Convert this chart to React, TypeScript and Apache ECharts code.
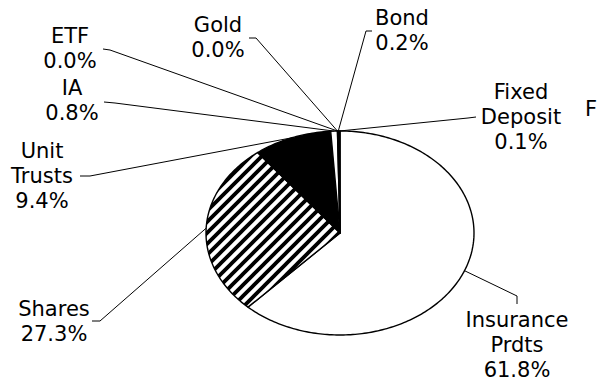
import React, { useEffect, useRef } from "react";
import * as echarts from "echarts";

// ---- data ----
const categories = ["Insurance\nPrdts", "Shares", "Unit\nTrusts", "IA", "ETF", "Gold", "Bond", "Fixed\nDeposit"];
const percentages = [61.8, 27.3, 9.4, 0.8, 0.0, 0.0, 0.2, 0.1];
const cutOffLabel = "F";

// ---- layout (not data) ----
const CX = 340;
const CY = 233;
const RX = 134;
const RY = 102;
const labelLayout: { text: number[]; end: number[]; elbow: number[] }[] = [
  { text: [517, 345], end: [517, 304], elbow: [517, 296] },
  { text: [54, 321], end: [92, 321], elbow: [100, 321] },
  { text: [42, 176], end: [80, 176], elbow: [90, 176] },
  { text: [72, 100], end: [104, 102], elbow: [115, 103] },
  { text: [70, 48], end: [103, 49], elbow: [110, 50] },
  { text: [218, 37], end: [249, 38], elbow: [256, 38] },
  { text: [402, 30], end: [372, 31], elbow: [366, 31] },
  { text: [521, 117], end: [476, 117], elbow: [468, 118] },
];

const TILE = 11;

function stripeTile(): string {
  const s = TILE;
  const c = document.createElement("canvas");
  c.width = s;
  c.height = s;
  const g = c.getContext("2d")!;
  g.fillStyle = "#fff";
  g.fillRect(0, 0, s, s);
  g.strokeStyle = "#000";
  g.lineWidth = 3.8;
  g.beginPath();
  g.moveTo(-2, s + 2);
  g.lineTo(s + 2, -2);
  g.moveTo(-3, 3);
  g.lineTo(3, -3);
  g.moveTo(s - 3, s + 3);
  g.lineTo(s + 3, s - 3);
  g.stroke();
  return c.toDataURL();
}

export default function App() {
  const ref = useRef<HTMLDivElement>(null);
  useEffect(() => {
    if (!ref.current) return;
    const chart = echarts.init(ref.current, undefined, { renderer: "svg" });
    const stripes = { image: stripeTile(), repeat: "repeat", imageWidth: TILE, imageHeight: TILE };
    const fills: any[] = ["#ffffff", stripes, "#000000", "#ffffff", "#ffffff", "#ffffff", "#000000", "#000000"];
    const total = percentages.reduce((a, b) => a + b, 0);
    const font = '"DejaVu Sans", Arial, sans-serif';

    const pt = (theta: number) => [CX + RX * Math.sin(theta), CY - RY * Math.cos(theta)];

    chart.setOption({
      animation: false,
      backgroundColor: "#ffffff",
      series: [
        {
          type: "custom",
          coordinateSystem: "none",
          data: percentages.map((v, i) => ({ value: v, name: categories[i] })),
          renderItem: (params: any, api: any) => {
            const i = params.dataIndex;
            const v = api.value(0) as number;
            const before = percentages.slice(0, i).reduce((a, b) => a + b, 0);
            const a0 = (before / total) * Math.PI * 2;
            const a1 = ((before + v) / total) * Math.PI * 2;
            const children: any[] = [];
            if (v > 0) {
              const pts: number[][] = [[CX, CY]];
              const steps = Math.max(2, Math.ceil(((a1 - a0) * 180) / Math.PI));
              for (let k = 0; k <= steps; k++) pts.push(pt(a0 + ((a1 - a0) * k) / steps));
              children.push({
                type: "polygon",
                shape: { points: pts },
                style: { fill: fills[i], stroke: "#000", lineWidth: 1.4, lineJoin: "round" },
                z2: 1,
              });
            }
            const mid = pt((a0 + a1) / 2);
            const lay = labelLayout[i];
            children.push({
              type: "polyline",
              shape: { points: [mid, lay.elbow, lay.end] },
              style: { stroke: "#000", lineWidth: 1, fill: null },
              z2: 5,
            });
            children.push({
              type: "text",
              x: lay.text[0],
              y: lay.text[1],
              style: {
                text: `${categories[i]}\n${v.toFixed(1)}%`,
                fill: "#000",
                fontSize: 21,
                fontFamily: font,
                align: "center",
                verticalAlign: "middle",
                lineHeight: 25,
              },
              z2: 6,
            });
            return { type: "group", children };
          },
        },
      ],
      graphic: [
        {
          type: "text",
          left: 585,
          top: 98,
          style: { text: cutOffLabel, fill: "#000", fontSize: 21, fontFamily: font },
        },
      ],
    });
    return () => chart.dispose();
  }, []);
  return (
    <div
      ref={ref}
      style={{ position: "fixed", left: 0, top: 0, width: 597, height: 383, background: "#fff" }}
    />
  );
}
